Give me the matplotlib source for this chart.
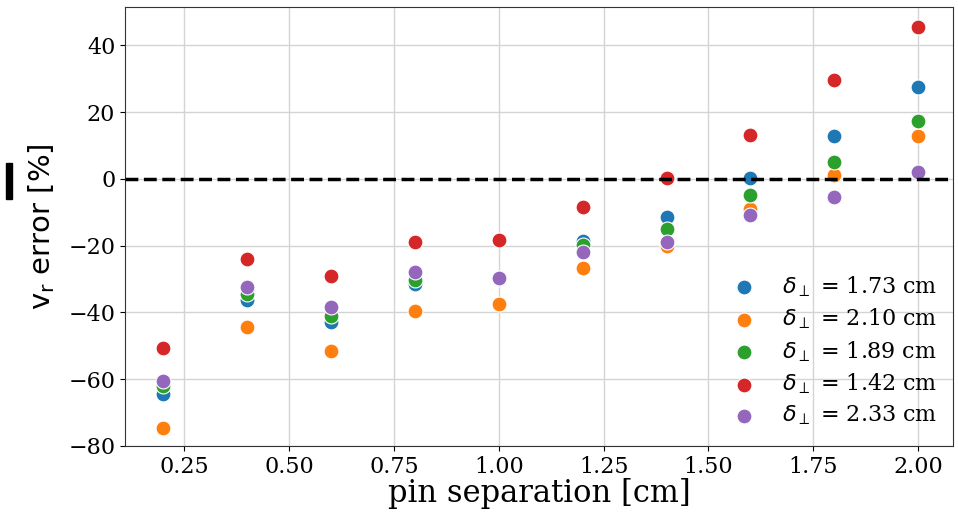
import matplotlib
matplotlib.use("agg")
from matplotlib import pyplot as plt
from matplotlib.patches import Rectangle
import numpy as np

# pin separation [cm]
pin_sep = [0.2, 0.4, 0.6, 0.8, 1.0, 1.2, 1.4, 1.6, 1.8, 2.0]

# v_r error [%] for each delta_perp
err_173 = [-64.4, -36.3, -43.0, -31.5, -29.9, -18.5, -11.5, 0.2, 13.0, 27.5]
err_210 = [-74.5, -44.5, -51.5, -39.5, -37.6, -26.6, -20.2, -9.1, 1.2, 13.0]
err_189 = [-62.0, -34.5, -41.0, -30.3, -29.8, -19.8, -14.9, -4.8, 5.1, 17.3]
err_142 = [-50.7, -24.0, -29.2, -19.0, -18.3, -8.5, 0.2, 13.1, 29.5, 45.4]
err_233 = [-60.4, -32.5, -38.5, -28.0, -29.7, -21.8, -18.8, -10.9, -5.4, 2.1]

series = [err_173, err_210, err_189, err_142, err_233]
labels = [r"$\delta_\perp$ = 1.73 cm", r"$\delta_\perp$ = 2.10 cm",
          r"$\delta_\perp$ = 1.89 cm", r"$\delta_\perp$ = 1.42 cm",
          r"$\delta_\perp$ = 2.33 cm"]
colors = ["#1f77b4", "#ff7f0e", "#2ca02c", "#d62728", "#9467bd"]

plt.rcParams['font.family'] = 'DejaVu Serif'
fontsize = 16

fig = plt.figure(figsize=(9.58, 5.18), dpi=100)
ax = fig.add_axes([0.1305, 0.139, 0.8643, 0.8475])

for vals, lab, col in zip(series, labels, colors):
    ax.scatter(pin_sep, vals, s=115, color=col, edgecolor='white',
               linewidth=0.8, label=lab, zorder=3)

ax.axhline(0, color='black', linestyle='--', lw=2.5, zorder=4)
ax.grid(True, color='#d4d4d4', lw=1, zorder=0)
ax.set_axisbelow(True)

ax.set_xlim(0.109, 2.083)
ax.set_ylim(-80, 51.5)
ax.set_xticks([0.25, 0.5, 0.75, 1.0, 1.25, 1.5, 1.75, 2.0])
ax.set_yticks([-80, -60, -40, -20, 0, 20, 40])
ax.tick_params(labelsize=fontsize)
for sp in ax.spines.values():
    sp.set_color('#333333')

ax.set_xlabel("pin separation [cm]", fontsize=22, labelpad=0)
ax.set_ylabel(r"$\mathrm{v_r}$ error [%]", fontsize=21, fontfamily='DejaVu Sans',
              labelpad=8)

ax.legend(loc='lower right', bbox_to_anchor=(1.0, 0.007), fontsize=fontsize,
          frameon=False, handletextpad=0.7, labelspacing=0.35, borderaxespad=0.3)

# black mark at the left edge
fig.patches.append(Rectangle((6/958, 1-199/518), 6/958, 36/518,
                             transform=fig.transFigure, color='black'))

plt.savefig("out.png", dpi=100)
